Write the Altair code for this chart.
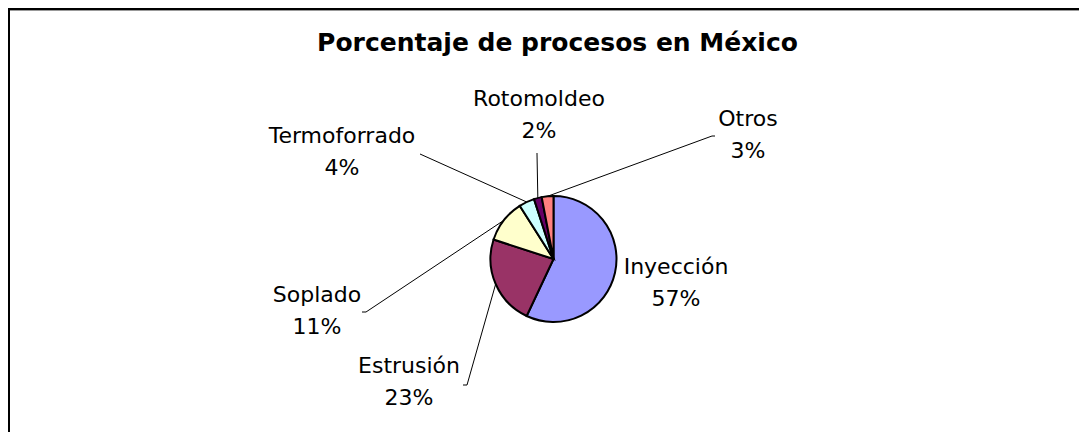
import math
import altair as alt
import pandas as pd

# ---- data ----
categories = ["Inyección", "Estrusión", "Soplado", "Termoforrado", "Rotomoldeo", "Otros"]
values = [57, 23, 11, 4, 2, 3]
colors = ["#9999FF", "#993366", "#FFFFCC", "#CCFFFF", "#660066", "#FF8080"]
title_text = "Porcentaje de procesos en México"

# ---- layout (chart pixel coordinates) ----
W, H = 1071, 424
CX, CY, R = 545.5, 251, 63
FONT = "DejaVu Sans"
label_pos = {
    "Inyección": (668, 266),
    "Estrusión": (401, 365),
    "Soplado": (309, 294),
    "Termoforrado": (334, 135),
    "Rotomoldeo": (531, 98),
    "Otros": (740, 118),
}
leader_end = {
    "Inyección": None,
    "Estrusión": (459, 377),
    "Soplado": (358, 304),
    "Termoforrado": (412, 146),
    "Rotomoldeo": (529, 145),
    "Otros": (704, 128),
}
leader_tick = {"Estrusión": -4, "Soplado": -4, "Otros": 3}

total = sum(values)
pie_df = pd.DataFrame({"category": categories, "value": values, "order": list(range(len(categories)))})

lab_rows = []
lead_rows = []
cum = 0
for c, v in zip(categories, values):
    mid = (cum + v / 2) / total * 2 * math.pi
    cum += v
    pct = round(v / total * 100)
    lx, ly = label_pos[c]
    lab_rows.append({"text": f"{c}\n{pct}%", "lx": lx, "ly": ly})
    if leader_end[c] is not None:
        ex, ey = leader_end[c]
        lead_rows.append({
            "x1": CX + R * math.sin(mid), "y1": CY - R * math.cos(mid),
            "x2": ex, "y2": ey,
        })
        if c in leader_tick:
            lead_rows.append({"x1": ex, "y1": ey, "x2": ex + leader_tick[c], "y2": ey})
lab_df = pd.DataFrame(lab_rows)
lead_df = pd.DataFrame(lead_rows)

one = pd.DataFrame({"a": [0]})

pie = alt.Chart(pie_df).mark_arc(outerRadius=R, stroke="black", strokeWidth=2).encode(
    theta=alt.Theta("value:Q", stack=True),
    color=alt.Color("category:N", scale=alt.Scale(domain=categories, range=colors), legend=None),
    order=alt.Order("order:Q"),
    x=alt.value(CX),
    y=alt.value(CY),
)

leaders = alt.Chart(lead_df).mark_rule(color="black", strokeWidth=1).encode(
    x=alt.X("x1:Q", scale=None),
    y=alt.Y("y1:Q", scale=None),
    x2="x2:Q",
    y2="y2:Q",
)

labels = alt.Chart(lab_df).mark_text(
    font=FONT, fontSize=22, align="center", baseline="alphabetic",
    lineBreak="\n", lineHeight=32, color="black",
).encode(
    x=alt.X("lx:Q", scale=None),
    y=alt.Y("ly:Q", scale=None),
    text="text:N",
)

title = alt.Chart(pd.DataFrame({"t": [title_text]})).mark_text(
    font=FONT, fontSize=25, fontWeight="bold", align="center", baseline="alphabetic", color="black",
).encode(x=alt.value(549.5), y=alt.value(43), text="t:N")

# cover for the right edge (no right border in the reference)
right_cover = alt.Chart(one).mark_rect(color="white", strokeWidth=0).encode(
    x=alt.value(W - 5), x2=alt.value(W + 2), y=alt.value(3), y2=alt.value(H + 2)
)
border_shadow_top = alt.Chart(one).mark_rule(color="#999999", strokeWidth=1).encode(
    x=alt.value(2), x2=alt.value(W), y=alt.value(2.5)
)
border_top = alt.Chart(one).mark_rule(color="black", strokeWidth=2).encode(
    x=alt.value(0), x2=alt.value(W), y=alt.value(1)
)
border_left = alt.Chart(one).mark_rule(color="black", strokeWidth=2).encode(
    x=alt.value(1), y=alt.value(0), y2=alt.value(H)
)

chart = alt.layer(leaders, pie, labels, title, right_cover,
                  border_shadow_top, border_top, border_left).properties(
    width=W, height=H, autosize=alt.AutoSizeParams(type="none"), padding=0,
).configure_view(stroke="transparent").configure(background="white")

chart.save("out.html", embed_options={"renderer": "svg", "actions": False})
